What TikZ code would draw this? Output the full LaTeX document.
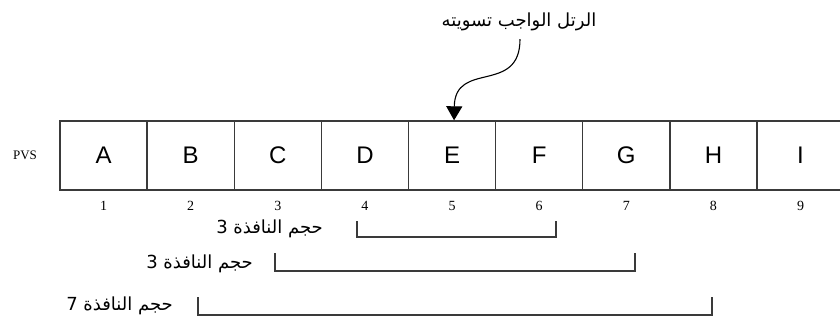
\documentclass[tikz,border=0pt]{standalone}
\usepackage{fontspec}
\setmainfont{Liberation Serif}
\newfontfamily\arabicfont[Script=Arabic]{DejaVu Sans}
\newfontfamily\cellfont{Liberation Sans}
\TeXXeTstate=1
\usetikzlibrary{arrows.meta}
\definecolor{linegray}{HTML}{3A3A3A}
\tikzset{
  cell/.style={draw=linegray, line width=1.4pt, minimum width=87.125pt, minimum height=69pt, inner sep=0pt, font=\cellfont\fontsize{24}{24}\selectfont},
  num/.style={inner sep=0pt, font=\fontsize{14}{14}\selectfont},
  arlabel/.style={inner sep=0pt, font=\arabicfont\fontsize{18}{20}\selectfont},
  bracket/.style={draw=linegray, line width=1.4pt},
  pointer/.style={draw=black, line width=1.1pt, -{Triangle[width=16pt,length=14pt]}}
}
\begin{document}
\begin{tikzpicture}[x=1pt,y=-1pt]
\useasboundingbox (0,0) rectangle (840,322);
\clip (0,0) rectangle (840,322);
\foreach \l [count=\i] in {A,B,C,D,E,F,G,H,I} {
  \node[cell] (c\i) at ({60+87.125*(\i-0.5)},155.5) {\l};
  \node[num] (n\i) at ({60+87.125*(\i-0.5)},206) {\i};
}
\node[inner sep=0pt, font=\fontsize{13}{13}\selectfont] (pvs) at (25,155.5) {PVS};
\node[arlabel] (top) at (519,22) {\beginR الرتل الواجب تسويته\endR};
\draw[pointer] ([shift={(1,8)}]top.south) .. controls (520,95) and (455,60) .. ([xshift=2pt]c5.north);
% windows
\node[arlabel, anchor=east] (w1) at (323,229) {\beginR حجم النافذة 3\endR};
\node[arlabel, anchor=east] (w2) at (253,264) {\beginR حجم النافذة 3\endR};
\node[arlabel, anchor=east] (w3) at (173,306) {\beginR حجم النافذة 7\endR};
\coordinate (b1a) at (357,221); \coordinate (b1b) at (556,221);
\coordinate (b2a) at (275,253); \coordinate (b2b) at (635,253);
\coordinate (b3a) at (198,297); \coordinate (b3b) at (712,297);
\draw[bracket] (b1a) -- ++(0,16) -| (b1b);
\draw[bracket] (b2a) -- ++(0,18) -| (b2b);
\draw[bracket] (b3a) -- ++(0,18) -| (b3b);
\end{tikzpicture}
\end{document}
